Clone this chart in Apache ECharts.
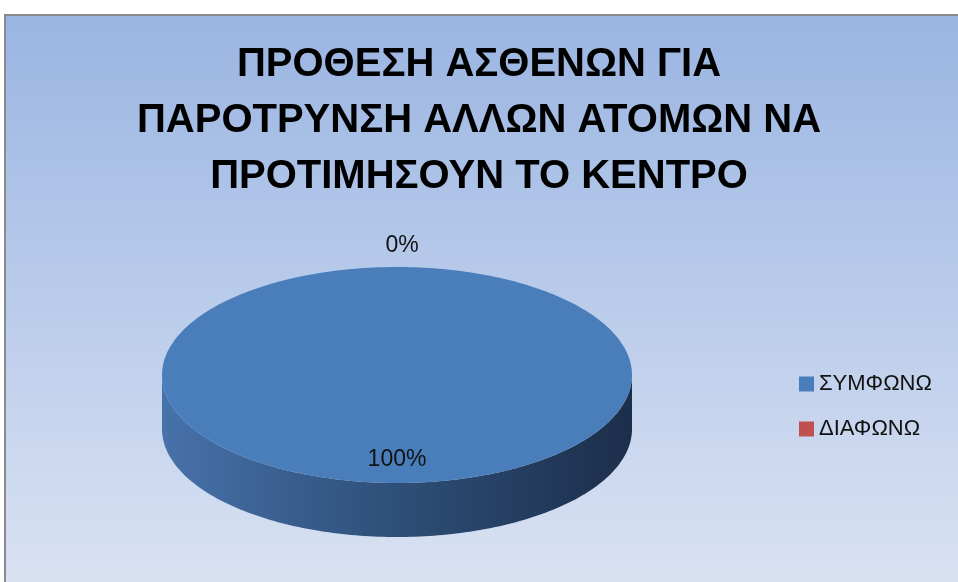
<!DOCTYPE html>
<html>
<head>
<meta charset="utf-8">
<script src="https://cdn.jsdelivr.net/npm/echarts@6/dist/echarts.min.js"></script>
<style>
html,body{margin:0;padding:0;background:#fff;}
#main{width:958px;height:582px;}
</style>
</head>
<body>
<div id="main"></div>
<script>
const titleLines = ['ΠΡΟΘΕΣΗ ΑΣΘΕΝΩΝ ΓΙΑ', 'ΠΑΡΟΤΡΥΝΣΗ ΑΛΛΩΝ ΑΤΟΜΩΝ ΝΑ', 'ΠΡΟΤΙΜΗΣΟΥΝ ΤΟ ΚΕΝΤΡΟ'];
const categories = ['ΣΥΜΦΩΝΩ', 'ΔΙΑΦΩΝΩ'];
const values = [100, 0];
const topColors = ['#4a7ebb', '#c0504d'];

const chart = echarts.init(document.getElementById('main'), null, {renderer: 'canvas'});

const CX = 397, CY = 375, RX = 235, RY = 108, DEPTH = 54;
const total = values.reduce((a, b) => a + b, 0);

function pt(theta, dy) {
  return [CX + RX * Math.cos(theta), CY + RY * Math.sin(theta) + (dy || 0)];
}

function sliceRange(idx) {
  let cum = 0;
  for (let i = 0; i < idx; i++) cum += values[i];
  const a = -Math.PI / 2 + 2 * Math.PI * cum / total;
  const b = -Math.PI / 2 + 2 * Math.PI * (cum + values[idx]) / total;
  return [a, b];
}

function makeRender(idx) {
  return function (params, api) {
    const v = api.value(0);
    const [a, b] = sliceRange(idx);
    const children = [];
    const N = 160;
    if (v > 0) {
      const lo = Math.max(a, 0), hi = Math.min(b, Math.PI);
      if (hi > lo) {
        const pts = [];
        for (let k = 0; k <= N; k++) pts.push(pt(lo + (hi - lo) * k / N, 0));
        for (let k = N; k >= 0; k--) pts.push(pt(lo + (hi - lo) * k / N, DEPTH));
        children.push({
          type: 'polygon',
          shape: {points: pts},
          style: {
            fill: new echarts.graphic.LinearGradient(0, 0, 1, 0, [
              {offset: 0, color: idx === 0 ? '#4772aa' : '#9c3f3c'},
              {offset: 0.45, color: idx === 0 ? '#30527d' : '#7a302e'},
              {offset: 1, color: idx === 0 ? '#1c2e4a' : '#4e1e1d'}
            ])
          }
        });
      }
      const tp = [[CX, CY]];
      for (let k = 0; k <= N * 2; k++) tp.push(pt(a + (b - a) * k / (N * 2), 0));
      children.push({
        type: 'polygon',
        shape: {points: tp},
        style: {fill: topColors[idx]}
      });
    }
    const mid = (a + b) / 2;
    const pct = Math.round(v / total * 100) + '%';
    let lx, ly;
    if (v > 0) {
      lx = CX + RX * 0.78 * Math.cos(mid);
      ly = CY + RY * 0.78 * Math.sin(mid);
    } else {
      lx = CX + RX * Math.cos(mid) + 5;
      ly = CY + (RY + 21) * Math.sin(mid);
    }
    children.push({
      type: 'text',
      x: lx, y: ly,
      z2: 10,
      style: {
        text: pct,
        fill: '#111',
        font: '23px "Liberation Sans", Arial, sans-serif',
        align: 'center',
        verticalAlign: 'middle'
      }
    });
    return {type: 'group', children: children};
  };
}

const series = categories.map((name, i) => ({
  type: 'custom',
  name: name,
  coordinateSystem: 'none',
  color: topColors[i],
  renderItem: makeRender(i),
  data: [[values[i]]],
  z: i === 0 ? 2 : 3,
  silent: true
}));

chart.setOption({
  backgroundColor: '#ffffff',
  animation: false,
  graphic: [{
    type: 'rect',
    z: -10,
    shape: {x: 5, y: 15, width: 1000, height: 620},
    style: {
      fill: new echarts.graphic.LinearGradient(0, 0, 0, 1, [
        {offset: 0, color: '#9ab5e2'},
        {offset: 1, color: '#dfe6f4'}
      ]),
      stroke: '#8a8a8a',
      lineWidth: 2
    }
  }],
  title: {
    text: titleLines.join('\n'),
    left: 'center',
    top: 37,
    padding: [0, 0, 0, 20],
    textStyle: {
      fontFamily: '"Liberation Sans", Arial, sans-serif',
      fontWeight: 'bold',
      fontSize: 40,
      lineHeight: 56,
      color: '#000'
    }
  },
  legend: {
    data: categories,
    orient: 'vertical',
    left: 794,
    top: 367,
    itemWidth: 15,
    itemHeight: 15,
    itemGap: 21,
    icon: 'rect',
    selectedMode: false,
    textStyle: {
      fontFamily: '"Liberation Sans", Arial, sans-serif',
      fontSize: 22,
      lineHeight: 24,
      color: '#111'
    }
  },
  series: series
});
</script>
</body>
</html>
